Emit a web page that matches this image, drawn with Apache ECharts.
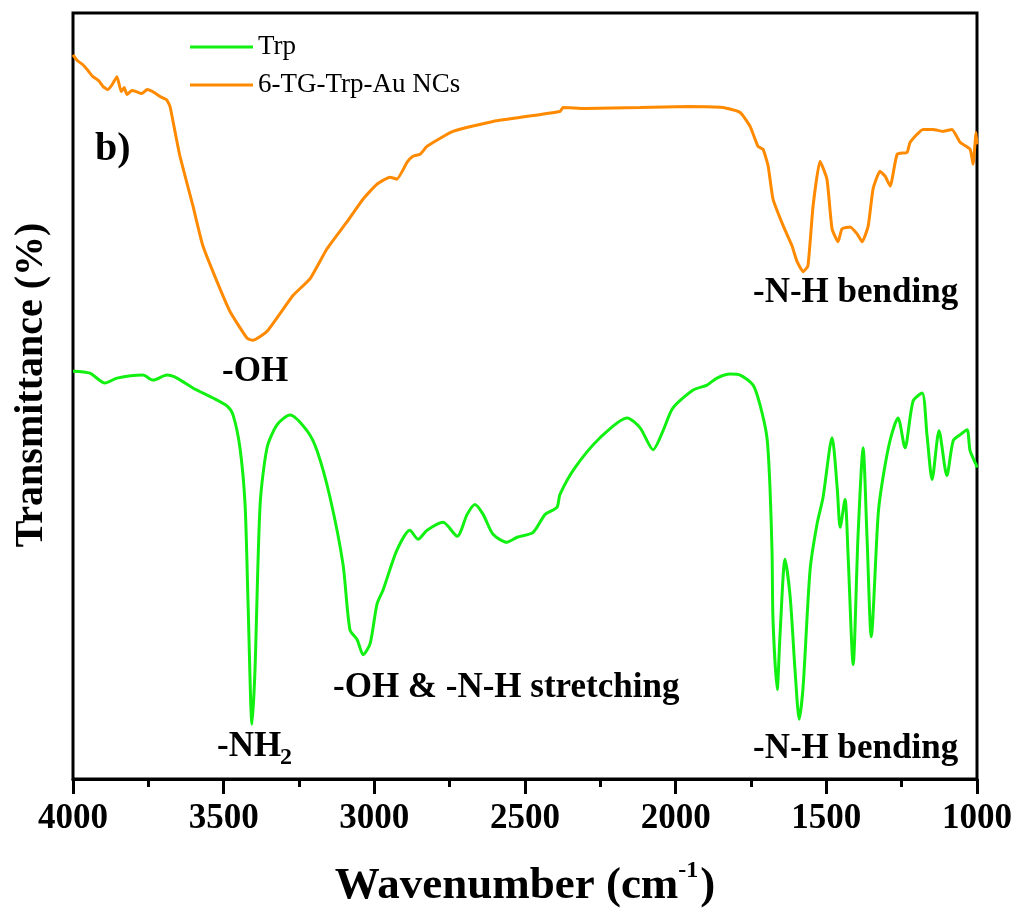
<!DOCTYPE html>
<html>
<head>
<meta charset="utf-8">
<script src="https://cdn.jsdelivr.net/npm/echarts@6/dist/echarts.min.js"></script>
<style>
html,body{margin:0;padding:0;background:#fff;}
#chart{width:1018px;height:914px;}
</style>
</head>
<body>
<div id="chart"></div>
<script>
// Wavenumber (cm^-1) and transmittance (a.u., offset spectra) for each series
var ncWavenumber = [4000,3985,3967,3950,3934,3915,3900,3885,3870,3854,3840,3830,3821,3805,3790,3772,3754,3730,3711,3690,3678,3661,3645,3602,3569,3522,3479,3422,3403,3356,3270,3213,3157,3091,3037,2991,2948,2925,2891,2872,2848,2825,2739,2606,2384,2374,2300,2118,1960,1843,1786,1753,1727,1710,1693,1677,1643,1614,1597,1577,1561,1544,1521,1498,1481,1461,1448,1421,1398,1381,1361,1345,1322,1305,1288,1265,1232,1222,1179,1146,1113,1083,1056,1023,1013,1003,1000];
var ncValue = [728,722,718,712,706,702,696,693,698,706,691,695,688,692,691,689,693,690,686,683,676,650,626,576,536,500,470,443,441,450,486,503,533,560,583,598,605,603,620,626,628,636,651,661,671,675,674,675,676,675,670,656,636,633,616,583,556,536,520,510,516,576,621,603,553,540,553,555,548,540,556,593,611,606,596,628,630,640,653,653,651,653,640,633,618,650,638];

var trpWavenumber = [4000,3944,3894,3854,3768,3734,3688,3655,3602,3535,3489,3469,3446,3429,3419,3406,3396,3379,3356,3323,3280,3223,3190,3147,3104,3081,3057,3037,3014,2991,2971,2925,2882,2855,2825,2772,2725,2692,2666,2639,2606,2560,2526,2473,2433,2394,2384,2334,2251,2161,2118,2075,2042,2009,1942,1896,1863,1819,1786,1743,1720,1697,1687,1680,1677,1663,1654,1637,1620,1604,1590,1577,1554,1531,1511,1481,1464,1454,1438,1428,1411,1395,1378,1365,1351,1328,1312,1288,1262,1239,1212,1182,1166,1149,1126,1100,1079,1056,1033,1023,1003,1000];
var trpValue = [410,408,398,403,406,401,406,403,393,383,375,366,333,276,176,55,110,276,333,356,366,350,330,283,216,150,140,125,136,176,190,230,250,241,250,258,244,266,276,266,246,238,243,248,266,273,286,313,343,363,353,331,350,373,391,396,403,407,406,396,376,343,293,226,160,90,143,221,183,110,60,93,210,256,283,343,293,253,281,226,115,243,333,243,143,266,303,341,363,333,380,388,346,301,350,305,340,346,351,330,316,313];

var seriesNames = ['Trp', '6-TG-Trp-Au NCs'];
var xTicks = {min: 1000, max: 4000, step: 500};

function pairs(xs, ys) { return xs.map(function (x, i) { return [x, ys[i]]; }); }

var serif = '"Liberation Serif", "Times New Roman", serif';
var chart = echarts.init(document.getElementById('chart'));
var annFont = 'bold 35px ' + serif;

chart.setOption({
  animation: false,
  backgroundColor: '#ffffff',
  grid: {left: 73, top: 13, width: 904, height: 770, show: true, borderColor: '#000', borderWidth: 3, backgroundColor: 'transparent'},
  legend: {
    orient: 'vertical', left: 185, top: 27, itemWidth: 63, itemHeight: 3, itemGap: 8, icon: 'rect',
    data: seriesNames,
    textStyle: {fontFamily: serif, fontSize: 27, color: '#000', lineHeight: 30}
  },
  xAxis: {
    type: 'value', inverse: true, min: xTicks.min, max: xTicks.max, interval: xTicks.step,
    axisLine: {show: true, lineStyle: {color: '#000', width: 3}},
    axisTick: {show: true, inside: false, length: 15, lineStyle: {color: '#000', width: 3}},
    minorTick: {show: true, splitNumber: 2, length: 8, lineStyle: {color: '#000', width: 3}},
    splitLine: {show: false},
    axisLabel: {color: '#000', fontFamily: serif, fontWeight: 'bold', fontSize: 35, margin: 22,
      formatter: function (v) { return String(v); }},
    name: '{a|Wavenumber (cm}{s|-1}{a|)}',
    nameLocation: 'middle', nameGap: 80,
    nameTextStyle: {
      rich: {
        a: {fontFamily: serif, fontWeight: 'bold', fontSize: 45, color: '#000', lineHeight: 50, verticalAlign: 'bottom'},
        s: {fontFamily: serif, fontWeight: 'bold', fontSize: 24, color: '#000', lineHeight: 50, verticalAlign: 'top', padding: [0, 2, 26, 0]}
      }
    }
  },
  yAxis: {
    type: 'value', min: 0, max: 770,
    axisLine: {show: false}, axisTick: {show: false}, axisLabel: {show: false}, splitLine: {show: false}
  },
  series: [
    {name: seriesNames[0], type: 'line', data: pairs(trpWavenumber, trpValue), showSymbol: false, smooth: 0.25,
     lineStyle: {color: '#12f012', width: 3}, itemStyle: {color: '#12f012'}},
    {name: seriesNames[1], type: 'line', data: pairs(ncWavenumber, ncValue), showSymbol: false, smooth: 0.15,
     lineStyle: {color: '#ff8a00', width: 3}, itemStyle: {color: '#ff8a00'}}
  ],
  graphic: [
    {type: 'text', x: 32, y: 385, rotation: Math.PI / 2, style: {text: 'Transmittance (%)', font: 'bold 40px ' + serif, fill: '#000', align: 'center', verticalAlign: 'middle'}},
    {type: 'text', x: 95, y: 150, style: {text: 'b)', font: 'bold 40px ' + serif, fill: '#000', align: 'left', verticalAlign: 'middle'}},
    {type: 'text', x: 222, y: 372, style: {text: '-OH', font: annFont, fill: '#000', align: 'left', verticalAlign: 'middle'}},
    {type: 'text', x: 753, y: 293, style: {text: '-N-H bending', font: annFont, fill: '#000', align: 'left', verticalAlign: 'middle'}},
    {type: 'text', x: 217, y: 747, style: {text: '-NH', font: annFont, fill: '#000', align: 'left', verticalAlign: 'middle'}},
    {type: 'text', x: 280, y: 758, style: {text: '2', font: 'bold 24px ' + serif, fill: '#000', align: 'left', verticalAlign: 'middle'}},
    {type: 'text', x: 333, y: 688, style: {text: '-OH & -N-H stretching', font: annFont, fill: '#000', align: 'left', verticalAlign: 'middle'}},
    {type: 'text', x: 753, y: 749, style: {text: '-N-H bending', font: annFont, fill: '#000', align: 'left', verticalAlign: 'middle'}}
  ]
});
</script>
</body>
</html>
